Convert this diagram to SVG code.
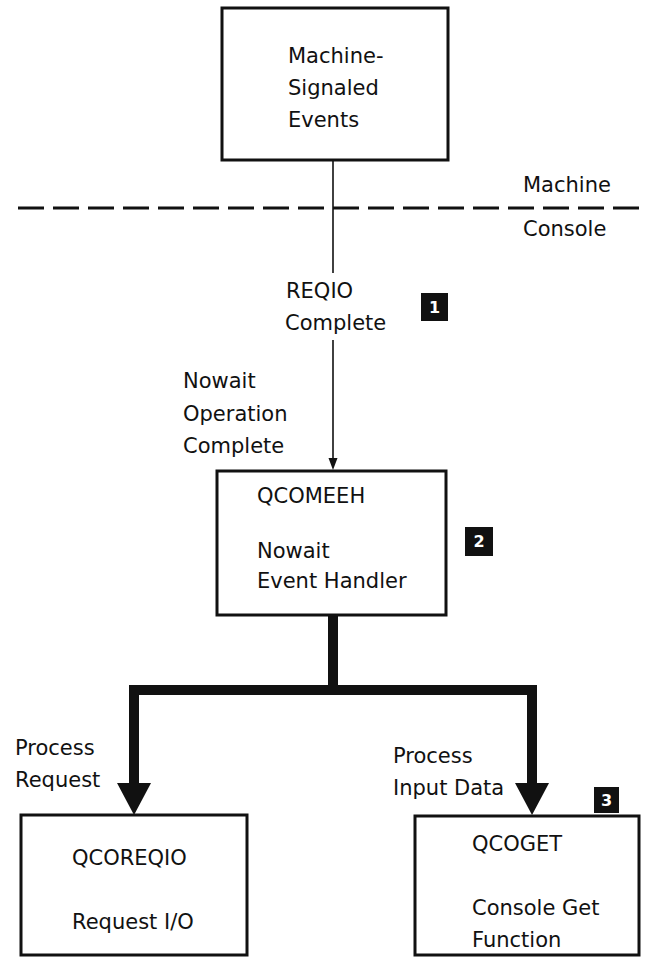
<svg xmlns="http://www.w3.org/2000/svg" width="646" height="964" viewBox="0 0 646 964">
  <style>
    .box { fill: #fff; stroke: #111; stroke-width: 3; }
    .lbl { font-family: "DejaVu Sans", "Liberation Sans", sans-serif; font-size: 21px; fill: #111; }
    .thin { fill: none; stroke: #111; stroke-width: 1.6; }
    .thick { fill: none; stroke: #111; stroke-width: 10; stroke-linejoin: miter; }
    .tag { fill: #111; }
    .tagnum { font-family: "DejaVu Sans", "Liberation Sans", sans-serif; font-size: 16px; font-weight: bold; fill: #fff; text-anchor: middle; }
  </style>
  <rect width="646" height="964" fill="#fff"/>

  <!-- boundary between machine and console -->
  <g id="boundary">
    <line x1="18" y1="208" x2="646" y2="208" stroke="#111" stroke-width="3" stroke-dasharray="26 9"/>
    <text class="lbl" x="523" y="192">Machine</text>
    <text class="lbl" x="523" y="236">Console</text>
  </g>

  <!-- connectors -->
  <g id="connectors">
    <line class="thin" x1="333" y1="160" x2="333" y2="273"/>
    <line class="thin" x1="333" y1="340" x2="333" y2="460"/>
    <polygon class="tag" points="328.5,458 337.5,458 333,470"/>
    <polyline class="thick" points="333,615 333,690 134,690 134,785"/>
    <polyline class="thick" points="333,690 532,690 532,785"/>
    <polygon class="tag" points="117,783 151,783 134,815"/>
    <polygon class="tag" points="515,783 549,783 532,815"/>
    <text class="lbl" x="286" y="298">REQIO</text>
    <text class="lbl" x="285" y="330">Complete</text>
    <text class="lbl" x="183" y="388">Nowait</text>
    <text class="lbl" x="183" y="421">Operation</text>
    <text class="lbl" x="183" y="453">Complete</text>
    <text class="lbl" x="15" y="755">Process</text>
    <text class="lbl" x="15" y="787">Request</text>
    <text class="lbl" x="393" y="763">Process</text>
    <text class="lbl" x="393" y="795">Input Data</text>
  </g>

  <!-- reference tags -->
  <g id="tag1">
    <rect class="tag" x="421" y="293" width="27" height="28"/>
    <text class="tagnum" x="434.5" y="313">1</text>
  </g>
  <g id="tag2">
    <rect class="tag" x="465" y="527" width="28" height="29"/>
    <text class="tagnum" x="479" y="547">2</text>
  </g>
  <g id="tag3">
    <rect class="tag" x="594" y="787" width="25" height="26"/>
    <text class="tagnum" x="606.5" y="806">3</text>
  </g>

  <g id="machine-events">
    <rect class="box" x="222" y="8" width="226" height="152"/>
    <text class="lbl" x="288" y="63">Machine-</text>
    <text class="lbl" x="288" y="95">Signaled</text>
    <text class="lbl" x="288" y="127">Events</text>
  </g>

  <g id="qcomeeh">
    <rect class="box" x="217" y="471" width="229" height="144"/>
    <text class="lbl" x="257" y="503">QCOMEEH</text>
    <text class="lbl" x="257" y="558">Nowait</text>
    <text class="lbl" x="257" y="588">Event Handler</text>
  </g>

  <g id="qcoreqio">
    <rect class="box" x="21" y="815" width="226" height="140"/>
    <text class="lbl" x="72" y="865">QCOREQIO</text>
    <text class="lbl" x="72" y="929">Request I/O</text>
  </g>

  <g id="qcoget">
    <rect class="box" x="415" y="816" width="224" height="139"/>
    <text class="lbl" x="472" y="851">QCOGET</text>
    <text class="lbl" x="472" y="915">Console Get</text>
    <text class="lbl" x="472" y="947">Function</text>
  </g>
</svg>
